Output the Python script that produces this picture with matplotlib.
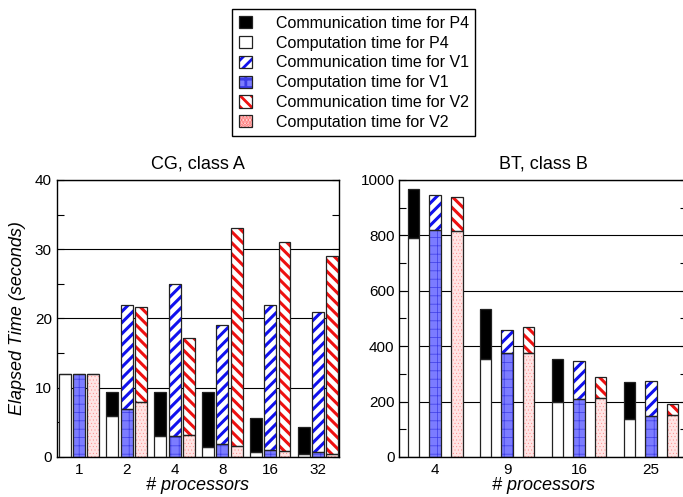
import numpy as np
import matplotlib
matplotlib.use("Agg")
import matplotlib.pyplot as plt
import matplotlib.patches as mpatches
from matplotlib.legend_handler import HandlerTuple
from matplotlib.ticker import MultipleLocator

plt.rcParams['font.family'] = ['Liberation Sans', 'DejaVu Sans']
plt.rcParams['hatch.linewidth'] = 2.0

# CG, class A
cg_procs = ['1', '2', '4', '8', '16', '32']
cg_p4_comp = [12, 5.96, 3.08, 1.44, 0.77, 0.48]
cg_p4_comm = [0, 3.46, 6.34, 7.98, 4.81, 3.80]
cg_v1_comp = [12, 6.9, 2.98, 1.92, 1.06, 0.67]
cg_v1_comm = [0, 15.1, 22.0, 17.2, 20.9, 20.3]
cg_v2_comp = [12, 8.0, 3.17, 1.63, 0.91, 0.43]
cg_v2_comm = [0, 13.7, 14.0, 31.4, 30.2, 28.6]

# BT, class B
bt_procs = ['4', '9', '16', '25']
bt_p4_comp = [789, 354, 198, 138]
bt_p4_comm = [180, 179, 154, 131]
bt_v1_comp = [819, 375, 211, 147]
bt_v1_comm = [127, 85, 134, 129]
bt_v2_comp = [815, 376, 213, 150]
bt_v2_comm = [123, 94, 77, 42]

labels = ['Communication time for P4', 'Computation time for P4',
          'Communication time for V1', 'Computation time for V1',
          'Communication time for V2', 'Computation time for V2']

# (facecolor, hatch, hatch colour, hatch linewidth)
styles = [
    ('black', None, None, None),
    ('white', None, None, None),
    ('white', '///', '#1010ee', 2.2),
    ('#7c7cff', '++', '#3c3ce6', 0.5),
    ('white', '\\\\\\', '#ee1010', 2.2),
    ('#ffe4e4', '.....', '#ff7070', 0.2),
]
EDGE = '#222222'


def fill_patch(p, style):
    face, hatch, hcol, hlw = style
    if hlw is not None and hasattr(p, 'set_hatch_linewidth'):
        p.set_hatch_linewidth(hlw)


def draw(ax, x, bottom, height, width, style):
    face, hatch, hcol, hlw = style
    if hatch:
        bars = ax.bar(x, height, width, bottom=bottom, color=face,
                      edgecolor=hcol, hatch=hatch, linewidth=0, zorder=2)
        for p in bars:
            fill_patch(p, style)
    else:
        ax.bar(x, height, width, bottom=bottom, color=face,
               linewidth=0, zorder=2)
    ax.bar(x, height, width, bottom=bottom, fill=False,
           edgecolor=EDGE, linewidth=0.9, zorder=3)


def panel(ax, procs, series, width, xlim, ylim, major, minor, title):
    x = np.arange(len(procs))
    offs = [-0.3, 0.0, 0.3]
    for k in range(3):
        comp, comm = series[2 * k + 1], series[2 * k]
        draw(ax, x + offs[k], 0, comp, width, styles[2 * k + 1])
        draw(ax, x + offs[k], comp, comm, width, styles[2 * k])
    ax.set_xlim(*xlim)
    ax.set_ylim(*ylim)
    ax.set_xticks(x)
    ax.set_xticklabels(procs)
    ax.yaxis.set_major_locator(MultipleLocator(major))
    ax.yaxis.set_minor_locator(MultipleLocator(minor))
    ax.tick_params(axis='x', length=0, labelsize=11, pad=4)
    ax.tick_params(axis='y', which='both', direction='in', left=True,
                   right=True, length=5, labelsize=11, width=0.8)
    ax.yaxis.grid(True, color='black', linewidth=0.8, zorder=0)
    ax.set_axisbelow(True)
    for s in ax.spines.values():
        s.set_linewidth(1.0)
    ax.set_xlabel('# processors', style='italic', fontsize=13, labelpad=0)
    ax.set_title(title, fontsize=13, pad=8)


fig = plt.figure(figsize=(6.83, 4.97), dpi=100)
ax1 = fig.add_axes([0.083, 0.0805, 0.4133, 0.5574])
ax2 = fig.add_axes([0.5846, 0.0805, 0.4212, 0.5574])

panel(ax1, cg_procs,
      [cg_p4_comm, cg_p4_comp, cg_v1_comm, cg_v1_comp, cg_v2_comm, cg_v2_comp],
      0.25, (-0.467, 5.44), (0, 40), 10, 5, 'CG, class A')
panel(ax2, bt_procs,
      [bt_p4_comm, bt_p4_comp, bt_v1_comm, bt_v1_comp, bt_v2_comm, bt_v2_comp],
      0.16, (-0.5, 3.5), (0, 1000), 200, 100, 'BT, class B')
ax1.set_ylabel('Elapsed Time (seconds)', style='italic', fontsize=13,
               labelpad=6)

handles = []
for st in styles:
    face, hatch, hcol, hlw = st
    if hatch:
        f = mpatches.Patch(facecolor=face, edgecolor=hcol, hatch=hatch,
                           linewidth=0)
        fill_patch(f, st)
    else:
        f = mpatches.Patch(facecolor=face, linewidth=0)
    o = mpatches.Patch(fill=False, edgecolor=EDGE, linewidth=0.9)
    handles.append((f, o))

fig.legend(handles, labels, loc='upper center',
           bbox_to_anchor=(0.518, 0.997), ncol=1, fontsize=11.5,
           handler_map={tuple: HandlerTuple(ndivide=1)},
           handlelength=0.8, handleheight=0.8, handletextpad=1.5,
           labelspacing=0.3, borderpad=0.4, fancybox=False,
           edgecolor='black', framealpha=1)

fig.savefig('out.png', dpi=100)
